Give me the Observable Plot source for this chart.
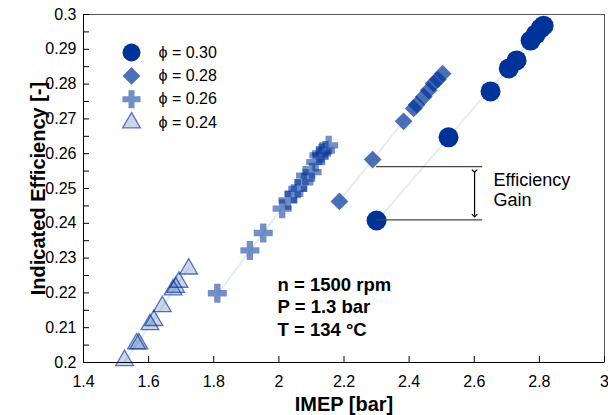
<!DOCTYPE html>
<html>
<head>
<meta charset="utf-8">
<script src="https://cdn.jsdelivr.net/npm/d3@7"></script>
<script src="https://cdn.jsdelivr.net/npm/@observablehq/plot@0.6"></script>
<style>
  html, body { margin: 0; padding: 0; background: #fff; }
  svg { display: block; }
</style>
</head>
<body>
<div id="chart"></div>
<script>
// ---- tick values ----
const xTicks = [1.4, 1.6, 1.8, 2.0, 2.2, 2.4, 2.6, 2.8, 3.0];
const yTicks = [0.20, 0.21, 0.22, 0.23, 0.24, 0.25, 0.26, 0.27, 0.28, 0.29, 0.30];
const yMinorTicks = [0.205, 0.215, 0.225, 0.235, 0.245, 0.255, 0.265, 0.275, 0.285, 0.295];

// ---- series (IMEP [bar], indicated efficiency [-]) ----
const phiLabels = ["ϕ = 0.30", "ϕ = 0.28", "ϕ = 0.26", "ϕ = 0.24"];

const imep030 = [2.300, 2.521, 2.650, 2.706, 2.730, 2.773, 2.789, 2.804, 2.813];
const eff030  = [0.2408, 0.2647, 0.2779, 0.2845, 0.2868, 0.2925, 0.2943, 0.2960, 0.2968];

const imep028 = [2.186, 2.288, 2.383, 2.414, 2.423, 2.445, 2.460, 2.475, 2.488, 2.503];
const eff028  = [0.2463, 0.2583, 0.2693, 0.2730, 0.2741, 0.2764, 0.2782, 0.2802, 0.2813, 0.2830];

const imep026 = [1.811, 1.911, 1.952, 2.010, 2.028, 2.046, 2.058, 2.077, 2.082, 2.102, 2.113, 2.123, 2.131, 2.143, 2.153];
const eff026  = [0.2199, 0.2322, 0.2372, 0.2442, 0.2466, 0.2485, 0.2499, 0.2518, 0.2537, 0.2547, 0.2576, 0.2595, 0.2601, 0.2609, 0.2624];

const imep024 = [1.526, 1.563, 1.570, 1.604, 1.616, 1.642, 1.675, 1.683, 1.693, 1.723];
const eff024  = [0.2006, 0.2054, 0.2054, 0.2109, 0.2121, 0.2161, 0.2209, 0.2216, 0.2231, 0.2269];

// ---- annotations ----
const gainLevels = [0.2563, 0.2410];
const gainLineX = [2.300, 2.626];
const gainArrowX = [2.601];
const gainArrowY = [0.2550, 0.2422];
const gainText = "Efficiency\nGain";
const gainTextPos = [2.659, 0.2497];
const condText = "n = 1500 rpm\nP = 1.3 bar\nT = 134 °C";
const condTextPos = [1.996, 0.2250];

// build tables
const toRows = (xs, ys) => xs.map((x, i) => ({x, y: ys[i]}));
const seriesData = [toRows(imep030, eff030), toRows(imep028, eff028), toRows(imep026, eff026), toRows(imep024, eff024)];

const navy = "#003399";
const styles = [
  {symbol: "circle", r: 10, fill: navy, fillOpacity: 1},
  {symbol: "diamond2", r: 8, fill: navy, fillOpacity: 0.7},
  {symbol: "cross", r: 8, fill: navy, fillOpacity: 0.55},
  {symbol: "triangle", r: 6.6, fill: navy, fillOpacity: 0.2, stroke: navy, strokeOpacity: 0.65, strokeWidth: 1.3}
];
const legendStyles = [
  {symbol: "circle", r: 9, fill: navy, fillOpacity: 1},
  {symbol: "diamond2", r: 8, fill: navy, fillOpacity: 0.7},
  {symbol: "cross", r: 7.6, fill: navy, fillOpacity: 0.55},
  {symbol: "triangle", r: 6.6, fill: navy, fillOpacity: 0.2, stroke: navy, strokeOpacity: 0.65, strokeWidth: 1.3}
];

const W = 608, H = 415, mL = 83, mR = 4, mT = 14, mB = 53;
const plotW = W - mL - mR, plotH = H - mT - mB;
const fmt = d => String(+d.toFixed(3));

const marks = [];
// trend lines
[3, 2, 1, 0].forEach(i => {
  marks.push(Plot.linearRegressionY(seriesData[i], {x: "x", y: "y", ci: 0, stroke: "#e6ebf4", strokeWidth: 2}));
});
// series dots (back to front)
[3, 2, 1, 0].forEach(i => {
  marks.push(Plot.dot(seriesData[i], {x: "x", y: "y", ...styles[i]}));
});
// frame and axes
marks.push(Plot.frame({stroke: "#555"}));
marks.push(Plot.ruleX([xTicks[0]], {stroke: "#000"}));
marks.push(Plot.ruleY([yTicks[0]], {stroke: "#000"}));
marks.push(Plot.tickY(yTicks.concat(yMinorTicks), {y: d => d, insetRight: plotW - 6, stroke: "#000"}));
marks.push(Plot.tickX(xTicks, {x: d => d, insetTop: plotH - 6, stroke: "#000"}));
marks.push(Plot.axisY({ticks: yTicks, tickSize: 0, tickPadding: 7, tickFormat: fmt, fontSize: 16, label: null}));
marks.push(Plot.axisX({ticks: xTicks, tickSize: 0, tickPadding: 13, tickFormat: fmt, fontSize: 16, label: null}));
// axis titles
marks.push(Plot.text(["IMEP [bar]"], {text: d => d, frameAnchor: "bottom", dy: 48, lineAnchor: "bottom", fontSize: 20, fontWeight: "bold"}));
marks.push(Plot.text(["Indicated Efficiency [-]"], {text: d => d, frameAnchor: "left", dx: -45, rotate: -90, textAnchor: "middle", lineAnchor: "middle", fontSize: 20, fontWeight: "bold"}));
// legend
phiLabels.forEach((lab, i) => {
  const dy = 38 + i * 23.4;
  marks.push(Plot.dot([lab], {frameAnchor: "top-left", dx: 48, dy, ...legendStyles[i]}));
  marks.push(Plot.text([lab], {text: d => d, frameAnchor: "top-left", dx: 75, dy, textAnchor: "start", lineAnchor: "middle", fontSize: 16}));
});
// efficiency gain annotation
marks.push(Plot.ruleY(gainLevels, {y: d => d, x1: gainLineX[0], x2: gainLineX[1], stroke: "#444", strokeWidth: 1.2}));
marks.push(Plot.link(gainArrowX, {x1: d => d, x2: d => d, y1: gainArrowY[0], y2: gainArrowY[1], stroke: "#000", strokeWidth: 1.2, markerStart: "arrow", markerEnd: "arrow"}));
marks.push(Plot.text([gainText], {text: d => d, x: gainTextPos[0], y: gainTextPos[1], textAnchor: "start", lineAnchor: "middle", lineHeight: 1.11, fontSize: 18}));
marks.push(Plot.text([condText], {text: d => d, x: condTextPos[0], y: condTextPos[1], textAnchor: "start", lineAnchor: "top", lineHeight: 1.2, fontSize: 18.5, fontWeight: "bold"}));

const chart = Plot.plot({
  width: W, height: H,
  marginLeft: mL, marginRight: mR, marginTop: mT, marginBottom: mB,
  x: {domain: [1.4, 3.0]},
  y: {domain: [0.2, 0.3]},
  style: {fontFamily: "'Liberation Sans', Arial, sans-serif", background: "#fff", color: "#000", overflow: "visible"},
  marks
});
document.getElementById("chart").appendChild(chart);
</script>
</body>
</html>
